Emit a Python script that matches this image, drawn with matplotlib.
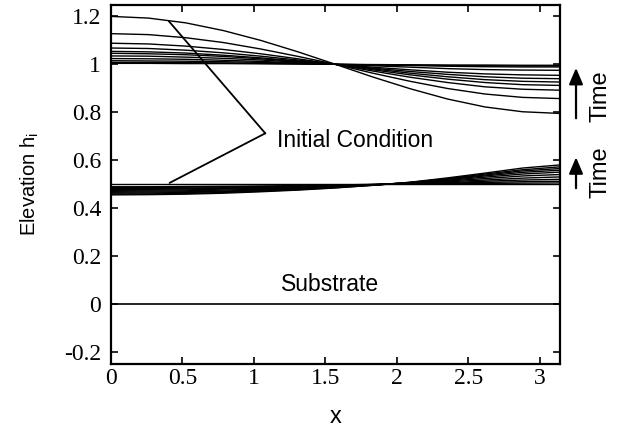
import numpy as np
import matplotlib
matplotlib.use("Agg")
import matplotlib.pyplot as plt

plt.rcParams['font.family'] = ['Liberation Sans', 'DejaVu Sans']
plt.rcParams['mathtext.fontset'] = 'custom'
plt.rcParams['mathtext.rm'] = 'Liberation Sans'
plt.rcParams['mathtext.it'] = 'Liberation Sans'

# x grid (13 samples from 0 to pi)
x_vals = [0.0, 0.2618, 0.5236, 0.7854, 1.0472, 1.3090, 1.5708,
          1.8326, 2.0944, 2.3562, 2.6180, 2.8798, 3.1416]

# upper interface (initial condition first, then later times)
upper_curves = [
    [1.200, 1.193, 1.173, 1.141, 1.100, 1.052, 1.000, 0.947, 0.898, 0.855, 0.822, 0.802, 0.795],
    [1.128, 1.124, 1.111, 1.091, 1.064, 1.033, 1.000, 0.963, 0.929, 0.899, 0.876, 0.862, 0.857],
    [1.088, 1.085, 1.076, 1.062, 1.044, 1.023, 1.000, 0.972, 0.946, 0.924, 0.906, 0.896, 0.892],
    [1.068, 1.066, 1.059, 1.048, 1.034, 1.018, 1.000, 0.977, 0.956, 0.938, 0.924, 0.915, 0.912],
    [1.054, 1.052, 1.047, 1.038, 1.027, 1.014, 1.000, 0.981, 0.963, 0.948, 0.936, 0.929, 0.926],
    [1.046, 1.044, 1.040, 1.033, 1.023, 1.012, 1.000, 0.984, 0.970, 0.958, 0.948, 0.942, 0.940],
    [1.035, 1.034, 1.030, 1.025, 1.018, 1.009, 1.000, 0.988, 0.977, 0.967, 0.960, 0.956, 0.954],
    [1.024, 1.023, 1.021, 1.017, 1.012, 1.006, 1.000, 0.994, 0.988, 0.982, 0.978, 0.976, 0.975],
    [1.015, 1.014, 1.013, 1.011, 1.008, 1.004, 1.000, 0.997, 0.995, 0.992, 0.990, 0.989, 0.989],
    [1.008, 1.008, 1.007, 1.006, 1.004, 1.002, 1.000, 0.998, 0.997, 0.995, 0.994, 0.993, 0.993],
    [1.004, 1.004, 1.003, 1.003, 1.002, 1.001, 1.000, 0.999, 0.998, 0.997, 0.997, 0.996, 0.996],
]

# lower interface (initial flat condition first, then later times)
lower_curves = [
    [0.500, 0.500, 0.500, 0.500, 0.500, 0.500, 0.500, 0.500, 0.500, 0.500, 0.500, 0.500, 0.500],
    [0.489, 0.489, 0.490, 0.491, 0.492, 0.494, 0.496, 0.499, 0.501, 0.502, 0.503, 0.504, 0.505],
    [0.486, 0.486, 0.487, 0.488, 0.490, 0.492, 0.495, 0.498, 0.501, 0.504, 0.507, 0.510, 0.512],
    [0.482, 0.482, 0.483, 0.485, 0.487, 0.490, 0.494, 0.498, 0.502, 0.506, 0.512, 0.517, 0.520],
    [0.478, 0.478, 0.480, 0.482, 0.485, 0.489, 0.493, 0.498, 0.503, 0.510, 0.517, 0.525, 0.530],
    [0.474, 0.475, 0.476, 0.479, 0.482, 0.486, 0.491, 0.497, 0.504, 0.513, 0.523, 0.534, 0.540],
    [0.470, 0.471, 0.472, 0.475, 0.479, 0.484, 0.490, 0.497, 0.505, 0.516, 0.529, 0.542, 0.550],
    [0.466, 0.467, 0.468, 0.471, 0.476, 0.482, 0.489, 0.497, 0.506, 0.519, 0.534, 0.549, 0.558],
    [0.462, 0.463, 0.465, 0.468, 0.473, 0.480, 0.487, 0.496, 0.507, 0.521, 0.538, 0.555, 0.565],
    [0.458, 0.459, 0.461, 0.465, 0.470, 0.477, 0.485, 0.495, 0.507, 0.523, 0.542, 0.560, 0.572],
    [0.455, 0.456, 0.458, 0.462, 0.468, 0.475, 0.484, 0.495, 0.508, 0.526, 0.546, 0.567, 0.580],
]

substrate = [0.0] * len(x_vals)

x_ticks = [0, 0.5, 1, 1.5, 2, 2.5, 3]
x_tick_labels = ['0', '0.5', '1', '1.5', '2', '2.5', '3']
y_ticks = [-0.2, 0, 0.2, 0.4, 0.6, 0.8, 1.0, 1.2]
y_tick_labels = ['-0.2', '0', '0.2', '0.4', '0.6', '0.8', '1', '1.2']

# annotation geometry
label_vertex = (1.08, 0.712)
upper_target = (0.405, 1.180)
lower_target = (0.41, 0.505)

fig = plt.figure(figsize=(6.2, 4.28), dpi=100)
ax = fig.add_axes([0.179, 0.150, 0.724, 0.838])

for c in upper_curves:
    ax.plot(x_vals, c, color='black', lw=1.0)
for c in lower_curves:
    ax.plot(x_vals, c, color='black', lw=1.0)
ax.plot(x_vals, substrate, color='black', lw=1.2)

ax.set_xlim(0, np.pi)
ax.set_ylim(-0.25, 1.247)

serif = {'family': 'Liberation Serif', 'size': 17}
ax.set_xticks(x_ticks)
ax.set_xticklabels(x_tick_labels, fontdict=serif)
ax.set_yticks(y_ticks)
ax.set_yticklabels(y_tick_labels, fontdict=serif)
ax.tick_params(direction='in', length=5, width=1.2, top=True, right=True)
ax.tick_params(axis='x', pad=3)
ax.tick_params(axis='y', pad=7)
for s in ax.spines.values():
    s.set_linewidth(1.6)

ax.set_xlabel('x', fontsize=17, labelpad=12)
ax.set_ylabel(r'Elevation h$_{\mathrm{i}}$', fontsize=14.5, labelpad=17)

# Initial condition label with pointer lines
ax.text(1.16, 0.68, 'Initial Condition', fontsize=16.5, va='center', ha='left')
for tgt in (upper_target, lower_target):
    ax.annotate('', xy=tgt, xytext=label_vertex,
                arrowprops=dict(arrowstyle='-', color='black', lw=1.3,
                                shrinkA=0, shrinkB=0))

ax.text(1.53, 0.08, 'Substrate', fontsize=16.5, ha='center', va='center')

# Time arrows on the right
arrow_x = 1.036
for (y0, y1) in [(0.775, 0.985), (0.483, 0.612)]:
    ax.annotate('', xy=(arrow_x, y1), xytext=(arrow_x, y0),
                xycoords=('axes fraction', 'data'),
                textcoords=('axes fraction', 'data'),
                annotation_clip=False,
                arrowprops=dict(arrowstyle='-|>,head_length=0.7,head_width=0.3',
                                color='black', lw=1.6, mutation_scale=14,
                                shrinkA=0, shrinkB=0))
for yc in (0.867, 0.55):
    ax.text(1.091, yc, 'Time', rotation=90, fontsize=17, ha='center', va='center',
            transform=ax.get_yaxis_transform(), clip_on=False)

fig.savefig('out.png', dpi=100)
